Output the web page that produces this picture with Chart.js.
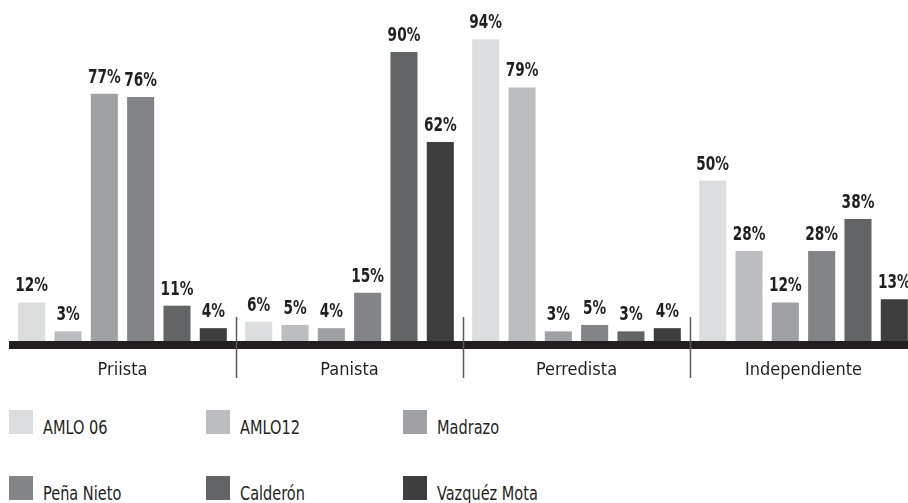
<!DOCTYPE html>
<html>
<head>
<meta charset="utf-8">
<script src="https://cdn.jsdelivr.net/npm/chart.js@4/dist/chart.umd.min.js"></script>
<style>
  html, body { margin: 0; padding: 0; background: #fff; overflow: hidden; }
  #wrap { position: relative; width: 917px; height: 503px; }
  #chart { position: absolute; left: 0; top: 0; }
  .lg-box { position: absolute; width: 24px; height: 24px; }
  .lg-text { position: absolute; font: 19px "Liberation Sans Narrow", "DejaVu Sans Condensed", sans-serif; line-height: 19px; color: #231f20; white-space: nowrap; transform: scaleX(0.85); transform-origin: 0 0; }
</style>
</head>
<body>
<div id="wrap">
  <canvas id="chart" width="917" height="390"></canvas>
</div>
<script>
const categories = ["Priista", "Panista", "Perredista", "Independiente"];
const seriesNames = ["AMLO 06", "AMLO12", "Madrazo", "Peña Nieto", "Calderón", "Vazquéz Mota"];
const amlo06 = [12, 6, 94, 50];
const amlo12 = [3, 5, 79, 28];
const madrazo = [77, 4, 3, 12];
const penaNieto = [76, 15, 5, 28];
const calderon = [11, 90, 3, 38];
const vazquezMota = [4, 62, 4, 13];
const seriesColors = ["#dcdddf", "#bcbdc0", "#a0a1a4", "#838487", "#636466", "#3e3e3f"];

const fontFamily = '"Liberation Sans Narrow", "DejaVu Sans Condensed", sans-serif';
const inkColor = "#231f20";

const allValues = [amlo06, amlo12, madrazo, penaNieto, calderon, vazquezMota];

// value labels on top of each bar (squeezed a bit to look condensed)
const barLabels = {
  id: "barLabels",
  afterDatasetsDraw(chart) {
    const ctx = chart.ctx;
    chart.data.datasets.forEach((ds, i) => {
      chart.getDatasetMeta(i).data.forEach((bar, j) => {
        ctx.save();
        ctx.font = "bold 19px " + fontFamily;
        ctx.fillStyle = inkColor;
        ctx.textAlign = "center";
        ctx.textBaseline = "alphabetic";
        ctx.translate(bar.x, bar.y - 11);
        ctx.scale(0.8, 1);
        ctx.fillText(ds.data[j] + "%", 0, 0);
        ctx.restore();
      });
    });
  }
};

// thick base line and group separators
const baseLine = {
  id: "baseLine",
  afterDraw(chart) {
    const ctx = chart.ctx;
    const area = chart.chartArea;
    const xs = chart.scales.x;
    ctx.save();
    ctx.fillStyle = inkColor;
    ctx.fillRect(area.left, area.bottom, area.right - area.left, 8);
    ctx.strokeStyle = "#58595b";
    ctx.lineWidth = 1.5;
    for (let i = 1; i < categories.length; i++) {
      const x = Math.round((xs.getPixelForValue(i - 1) + xs.getPixelForValue(i)) / 2) + 0.5;
      ctx.beginPath();
      ctx.moveTo(x, area.bottom - 24);
      ctx.lineTo(x, area.bottom + 37);
      ctx.stroke();
    }
    ctx.restore();
  }
};

const chart = new Chart(document.getElementById("chart"), {
  type: "bar",
  data: {
    labels: categories,
    datasets: seriesNames.map((name, i) => ({
      label: name,
      data: allValues[i],
      backgroundColor: seriesColors[i],
      borderWidth: 0,
      categoryPercentage: 0.96,
      barPercentage: 0.745
    }))
  },
  options: {
    responsive: false,
    animation: false,
    layout: { padding: { left: 9, top: 20, right: 0, bottom: 0 } },
    plugins: {
      legend: { display: false },
      tooltip: { enabled: false }
    },
    scales: {
      x: {
        grid: { display: false, drawTicks: false },
        border: { display: false },
        ticks: {
          padding: 19,
          color: inkColor,
          font: { family: fontFamily, size: 18 }
        },
        afterFit(scale) { scale.height = 49; }
      },
      y: {
        display: false,
        min: 0,
        max: 100
      }
    }
  },
  plugins: [barLabels, baseLine]
});

// legend in three columns, two rows
const wrap = document.getElementById("wrap");
const legendCols = [9, 206, 403];
const legendRows = [410, 476];
seriesNames.forEach((name, i) => {
  const x = legendCols[i % 3];
  const y = legendRows[Math.floor(i / 3)];
  const box = document.createElement("div");
  box.className = "lg-box";
  box.style.left = x + "px";
  box.style.top = y + "px";
  box.style.background = seriesColors[i];
  const txt = document.createElement("div");
  txt.className = "lg-text";
  txt.style.left = (x + 34) + "px";
  txt.style.top = (y + 8) + "px";
  txt.textContent = name;
  wrap.appendChild(box);
  wrap.appendChild(txt);
});
</script>
</body>
</html>
